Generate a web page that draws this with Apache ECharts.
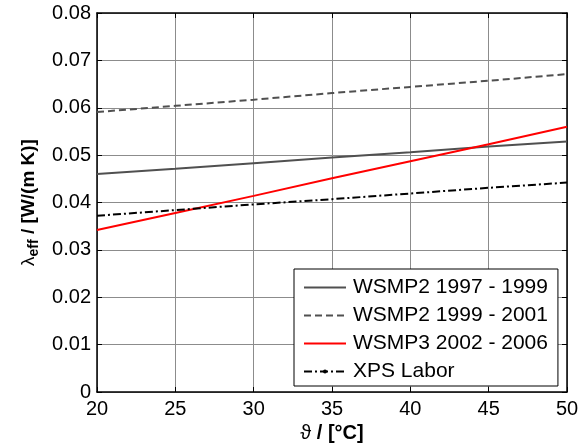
<!DOCTYPE html>
<html>
<head>
<meta charset="utf-8">
<script src="https://cdn.jsdelivr.net/npm/echarts@6/dist/echarts.min.js"></script>
<style>
  html, body { margin: 0; padding: 0; background: #fff; }
  #chart { width: 586px; height: 443px; }
</style>
</head>
<body>
<div id="chart"></div>
<script>
// Temperature points (°C)
const temperatures = [20, 25, 30, 35, 40, 45, 50];

// Effective thermal conductivity λ_eff in W/(m K)
const wsmp2_1997_1999 = [0.0460, 0.0471, 0.0483, 0.0495, 0.0506, 0.0518, 0.0529];
const wsmp2_1999_2001 = [0.0591, 0.0604, 0.0617, 0.0631, 0.0644, 0.0657, 0.0671];
const wsmp3_2002_2006 = [0.0342, 0.0378, 0.0414, 0.0451, 0.0487, 0.0523, 0.0560];
const xpsLabor        = [0.0372, 0.0384, 0.0396, 0.0407, 0.0419, 0.0431, 0.0442];

const seriesNames = ['WSMP2 1997 - 1999', 'WSMP2 1999 - 2001', 'WSMP3 2002 - 2006', 'XPS Labor'];

// Tick labels
const xTickLabels = ['20', '25', '30', '35', '40', '45', '50'];
const yTickLabels = ['0', '0.01', '0.02', '0.03', '0.04', '0.05', '0.06', '0.07', '0.08'];

const FONT = 'Liberation Sans, Arial, sans-serif';

function pairs(ys) {
  return temperatures.map((t, i) => [t, ys[i]]);
}

const tickStyle = { show: true, inside: true, length: 5, lineStyle: { color: '#000', width: 1 } };
const axisLineStyle = { show: true, onZero: false, lineStyle: { color: '#000', width: 1.5 } };
const gridLine = { show: true, lineStyle: { color: '#8c8c8c', width: 1 } };

const hiddenSymbol = { opacity: 0 };

const chart = echarts.init(document.getElementById('chart'), null, { renderer: 'canvas' });

chart.setOption({
  animation: false,
  backgroundColor: '#fff',
  grid: { left: 97, right: 19, top: 13, bottom: 51, containLabel: false, outerBoundsMode: 'none' },
  xAxis: [
    {
      type: 'value', min: 20, max: 50, interval: 5, position: 'bottom',
      axisLine: axisLineStyle, axisTick: tickStyle, splitLine: gridLine,
      axisLabel: {
        color: '#000', fontFamily: FONT, fontSize: 20, margin: 7,
        formatter: v => xTickLabels[Math.round((v - 20) / 5)]
      },
      name: '{g|ϑ}{b| / [°C]}', nameLocation: 'middle', nameGap: 30,
      nameTextStyle: {
        rich: {
          g: { fontFamily: FONT, fontSize: 20, color: '#000' },
          b: { fontFamily: FONT, fontSize: 20, fontWeight: 'bold', color: '#000' }
        }
      }
    },
    {
      type: 'value', min: 20, max: 50, interval: 5, position: 'top',
      axisLine: axisLineStyle, axisTick: tickStyle, splitLine: { show: false },
      axisLabel: { show: false }
    }
  ],
  yAxis: [
    {
      type: 'value', min: 0, max: 0.08, interval: 0.01, position: 'left',
      axisLine: axisLineStyle, axisTick: tickStyle, splitLine: gridLine,
      axisLabel: {
        color: '#000', fontFamily: FONT, fontSize: 20, margin: 6,
        formatter: v => yTickLabels[Math.round(v / 0.01)]
      },
      name: '{l|λ}{s|eff}{b| / [W/(m K)]}', nameLocation: 'middle', nameGap: 56, nameRotate: 90,
      nameTextStyle: {
        rich: {
          l: { fontFamily: FONT, fontSize: 19, color: '#000' },
          s: { fontFamily: FONT, fontSize: 14, fontWeight: 'bold', color: '#000', padding: [10, 0, 0, 0] },
          b: { fontFamily: FONT, fontSize: 19, fontWeight: 'bold', color: '#000' }
        }
      }
    },
    {
      type: 'value', min: 0, max: 0.08, interval: 0.01, position: 'right',
      axisLine: axisLineStyle, axisTick: tickStyle, splitLine: { show: false },
      axisLabel: { show: false }
    }
  ],
  legend: {
    orient: 'vertical', left: 294, top: 269,
    data: [
      { name: seriesNames[0], itemStyle: hiddenSymbol },
      { name: seriesNames[1], itemStyle: hiddenSymbol },
      { name: seriesNames[2], itemStyle: hiddenSymbol },
      { name: seriesNames[3] }
    ],
    backgroundColor: '#fff', borderColor: '#000', borderWidth: 1,
    padding: [8, 10, 4, 9], itemGap: 7, itemWidth: 42, itemHeight: 5,
    textStyle: { fontFamily: FONT, fontSize: 21, color: '#000', lineHeight: 20, padding: [0, 0, 0, 2] }
  },
  series: [
    {
      name: seriesNames[0], type: 'line', data: pairs(wsmp2_1997_1999), symbol: 'none',
      lineStyle: { color: '#505050', width: 2 }, itemStyle: { color: '#505050' }
    },
    {
      name: seriesNames[1], type: 'line', data: pairs(wsmp2_1999_2001), symbol: 'none',
      lineStyle: { color: '#505050', width: 2, type: [7, 4] }, itemStyle: { color: '#505050' }
    },
    {
      name: seriesNames[2], type: 'line', data: pairs(wsmp3_2002_2006), symbol: 'none',
      lineStyle: { color: '#ff0000', width: 2 }, itemStyle: { color: '#ff0000' }
    },
    {
      name: seriesNames[3], type: 'line', data: pairs(xpsLabor), symbol: 'none',
      lineStyle: { color: '#000', width: 2, type: [8, 3, 2, 3] }, itemStyle: { color: '#000' }
    }
  ]
});
</script>
</body>
</html>
